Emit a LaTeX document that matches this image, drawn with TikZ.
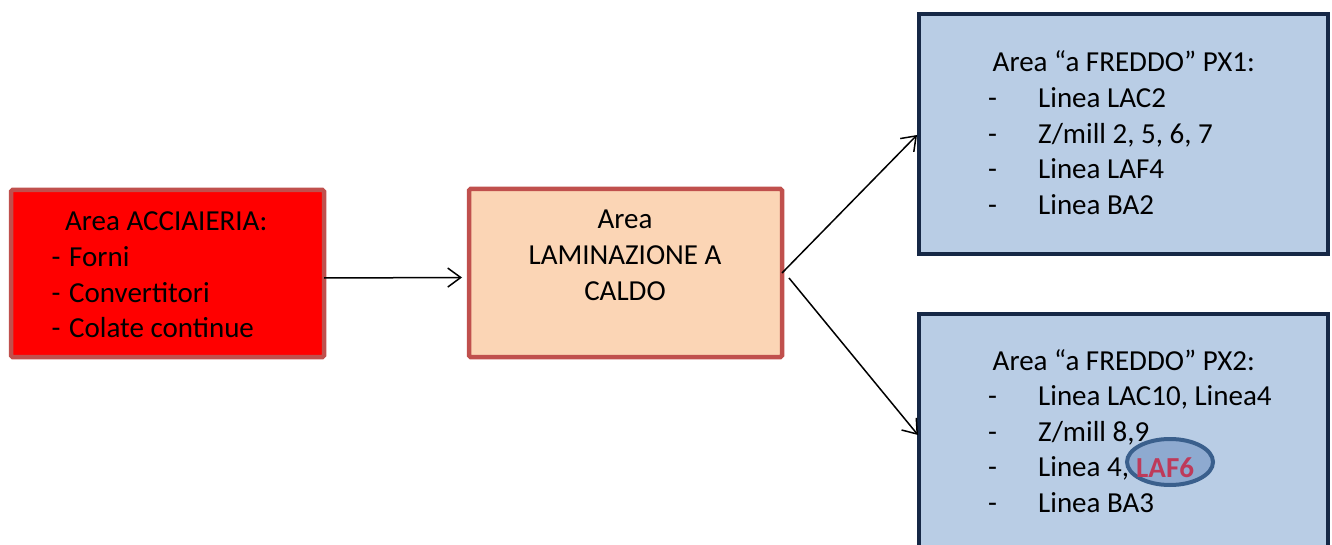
\documentclass[tikz,border=0pt]{standalone}
\usepackage{fontspec}
\setmainfont{Carlito}
\usetikzlibrary{arrows.meta,shapes.geometric}
\definecolor{accred}{RGB}{255,0,0}
\definecolor{brdred}{RGB}{192,80,77}
\definecolor{peach}{RGB}{251,213,181}
\definecolor{bluefill}{RGB}{185,205,229}
\definecolor{navy}{RGB}{22,40,70}
\definecolor{ellfill}{RGB}{142,170,208}
\definecolor{ellbrd}{RGB}{58,95,140}
\definecolor{lafred}{RGB}{190,58,90}
\tikzset{
  box/.style={rectangle, line width=4.5pt, outer sep=0pt, inner sep=0pt, anchor=north west},
  redbox/.style={box, fill=accred, draw=brdred, rounded corners=1.5pt},
  peachbox/.style={box, fill=peach, draw=brdred, rounded corners=1.5pt},
  bluebox/.style={box, fill=bluefill, draw=navy, line width=4pt},
  txt/.style={inner sep=0pt, anchor=base west, font=\fontsize{29}{35.6}\selectfont},
  conn/.style={line width=1.5pt, -{Straight Barb[length=13pt,width=19pt,line width=1.5pt]}},
}
\begin{document}
\begin{tikzpicture}[x=1pt,y=-1pt]
\useasboundingbox (0,0) rectangle (1332,545);
\clip (0,0) rectangle (1332,545);
% boxes
\node[redbox, minimum width=313pt, minimum height=167pt] (acc) at (11,190) {};
\node[peachbox, minimum width=313pt, minimum height=168pt] (lam) at (469,189) {};
\node[bluebox, minimum width=409pt, minimum height=240pt] (px1) at (919,14) {};
\node[bluebox, minimum width=409pt, minimum height=250pt] (px2) at (919,314) {};
% texts
\node[txt] (acctxt) at (51.5,231) {\begin{tabular}[t]{@{}l@{}}\hspace{13.5pt}Area ACCIAIERIA:\\
\makebox[17.5pt][l]{-}Forni\\
\makebox[17.5pt][l]{-}Convertitori\\
\makebox[17.5pt][l]{-}Colate continue\end{tabular}};
\node[txt, anchor=base] (lamtxt) at (625,229) {\begin{tabular}[t]{@{}c@{}}Area\\LAMINAZIONE A\\CALDO\end{tabular}};
\node[txt] (px1txt) at (988,72) {\begin{tabular}[t]{@{}l@{}}\hspace{4.5pt}Area “a FREDDO” PX1:\\
\makebox[50pt][l]{-}Linea LAC2\\
\makebox[50pt][l]{-}Z/mill 2, 5, 6, 7\\
\makebox[50pt][l]{-}Linea LAF4\\
\makebox[50pt][l]{-}Linea BA2\end{tabular}};
\node[txt] (px2txt) at (988,370) {\begin{tabular}[t]{@{}l@{}}\hspace{4.5pt}Area “a FREDDO” PX2:\\
\makebox[50pt][l]{-}Linea LAC10, Linea4\\
\makebox[50pt][l]{-}Z/mill 8,9\\
\makebox[50pt][l]{-}Linea 4,\\
\makebox[50pt][l]{-}Linea BA3\end{tabular}};
% highlight
\node[ellipse, draw=ellbrd, fill=ellfill, line width=4pt, minimum width=86pt, minimum height=46pt, inner sep=0pt] (hl) at (1170,462) {};
\node[txt, font=\fontsize{29}{35.6}\selectfont\bfseries, text=lafred] (laf) at (1136,477) {LAF6};
% connectors
\draw[conn] ([yshift=-4.5pt]acc.east) -- ([xshift=-7pt,yshift=-4.5pt]lam.west);
\draw[conn] (lam.east) -- ([xshift=-2pt,yshift=-1pt]px1.west);
\draw[conn] ([shift={(7pt,-5pt)}]lam.east) -- ([xshift=-1pt,yshift=-121pt]px2.north west);
\end{tikzpicture}
\end{document}
